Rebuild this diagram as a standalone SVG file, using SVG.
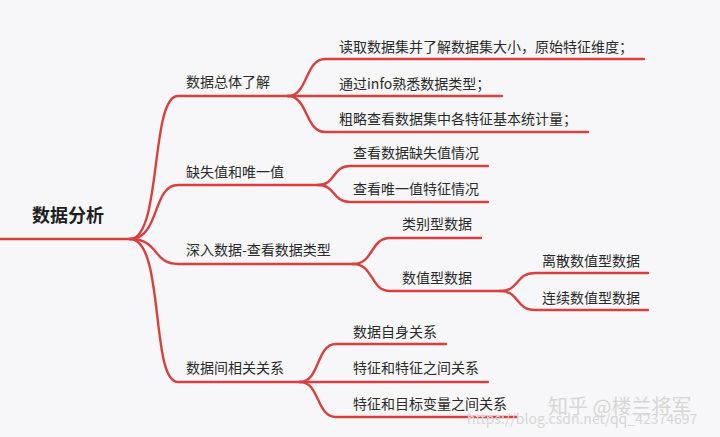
<svg xmlns="http://www.w3.org/2000/svg" width="720" height="437" viewBox="0 0 720 437">
<style>
.ln{fill:none;stroke:#d8403f;stroke-width:2.4;stroke-linecap:round}
.t{font-family:"Noto Sans CJK SC","Noto Sans",sans-serif;font-size:14px;fill:#2a2a2a}
.root{font-family:"Noto Sans CJK SC","Noto Sans",sans-serif;font-size:18px;font-weight:bold;fill:#1e1e1e}
.wm{font-family:"Noto Sans CJK SC","Liberation Sans",sans-serif;fill:#d6d6d6}
</style>
<rect width="720" height="437" fill="#f7f7f9"/>
<g id="connectors">
<path class="ln" d="M0,239 H130"/>
<path class="ln" d="M130,239 C162,239 150,96 178,96 H288"/>
<path class="ln" d="M130,239 C160,239 152,185 178,185 H318"/>
<path class="ln" d="M130,239 C160,239 152,264 178,264 H353"/>
<path class="ln" d="M130,239 C165,239 150,382 178,382 H300"/>
<path class="ln" d="M288,96 C308,96 305,59 325,59 H644"/>
<path class="ln" d="M288,96 H502"/>
<path class="ln" d="M288,96 C308,96 305,132 325,132 H588"/>
<path class="ln" d="M318,185 C336,185 332,166 350,166 H488"/>
<path class="ln" d="M318,185 C336,185 332,202 350,202 H488"/>
<path class="ln" d="M353,264 C374,264 370,238 390,238 H481"/>
<path class="ln" d="M353,264 C374,264 370,291 390,291 H500"/>
<path class="ln" d="M500,291 C520,291 515,273 535,273 H648"/>
<path class="ln" d="M500,291 C520,291 515,310 535,310 H648"/>
<path class="ln" d="M300,382 C320,382 316,344 336,344 H446"/>
<path class="ln" d="M300,382 H488"/>
<path class="ln" d="M300,382 C320,382 316,417 336,417 H517"/>
</g>
<g id="root"><text class="root" x="32" y="222">数据分析</text></g>
<g id="n1"><text class="t" x="186" y="87">数据总体了解</text></g>
<g id="n1a"><text class="t" x="339" y="52">读取数据集并了解数据集大小，原始特征维度；</text></g>
<g id="n1b"><text class="t" x="339" y="89">通过info熟悉数据类型；</text></g>
<g id="n1c"><text class="t" x="339" y="124">粗略查看数据集中各特征基本统计量；</text></g>
<g id="n2"><text class="t" x="186" y="177">缺失值和唯一值</text></g>
<g id="n2a"><text class="t" x="353" y="158">查看数据缺失值情况</text></g>
<g id="n2b"><text class="t" x="353" y="194">查看唯一值特征情况</text></g>
<g id="n3"><text class="t" x="186" y="255">深入数据-查看数据类型</text></g>
<g id="n3a"><text class="t" x="402" y="229">类别型数据</text></g>
<g id="n3b"><text class="t" x="402" y="283">数值型数据</text></g>
<g id="n3b1"><text class="t" x="542" y="266">离散数值型数据</text></g>
<g id="n3b2"><text class="t" x="542" y="303">连续数值型数据</text></g>
<g id="n4"><text class="t" x="186" y="373">数据间相关关系</text></g>
<g id="n4a"><text class="t" x="353" y="337">数据自身关系</text></g>
<g id="n4b"><text class="t" x="353" y="373">特征和特征之间关系</text></g>
<g id="n4c"><text class="t" x="353" y="409">特征和目标变量之间关系</text></g>
<g id="watermark">
<text class="wm" x="548" y="414" font-size="20">知乎 @楼兰将军</text>
<text class="wm" x="467" y="424" font-size="14" font-family="Liberation Sans, sans-serif">https://blog.csdn.net/qq_42374697</text>
</g>
</svg>
